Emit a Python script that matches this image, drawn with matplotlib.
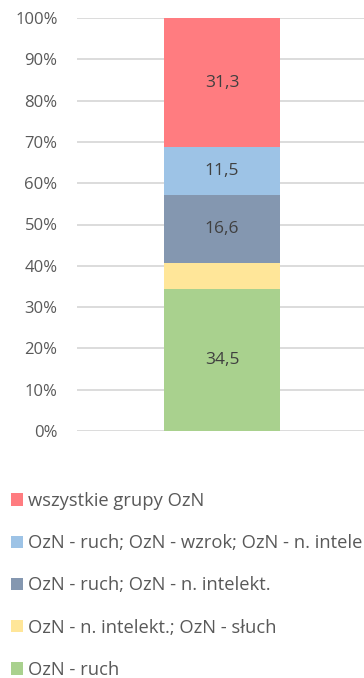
import matplotlib.pyplot as plt
from matplotlib.patches import Patch

plt.rcParams['font.family'] = ['Open Sans', 'DejaVu Sans']

# Udział grup OzN (stacked to 100%)
groups = ['OzN - ruch',
          'OzN - n. intelekt.; OzN - słuch',
          'OzN - ruch; OzN - n. intelekt.',
          'OzN - ruch; OzN - wzrok; OzN - n. intelekt.',
          'wszystkie grupy OzN']
shares = [34.5, 6.1, 16.6, 11.5, 31.3]
show_label = [True, False, True, True, True]
colors = ['#A9D18E', '#FFE699', '#8497B0', '#9DC3E6', '#FF7C80']
yticks = [0, 10, 20, 30, 40, 50, 60, 70, 80, 90, 100]

W, H = 364, 678
fig = plt.figure(figsize=(W / 100, H / 100), dpi=100)
# axes runs slightly past the right edge of the canvas
ax = fig.add_axes([77 / W, 1 - 431 / H, 290 / W, 413 / H])

bottom = 0
handles = []
for name, val, lab, col in zip(groups, shares, show_label, colors):
    ax.bar(0, val, bottom=bottom, width=0.4, color=col, zorder=3)
    if lab:
        ax.text(0, bottom + val / 2, f'{val:.1f}'.replace('.', ','),
                ha='center', va='center', fontsize=12.5, color='#404040', zorder=4)
    handles.append(Patch(facecolor=col, label=name))
    bottom += val

ax.set_xlim(-0.5, 0.5)
ax.set_ylim(0, 100)
ax.set_yticks(yticks)
ax.set_yticklabels([f'{t}%' for t in yticks])
ax.set_xticks([])
ax.tick_params(axis='y', length=0, labelsize=12, labelcolor='#595959', pad=14)
ax.grid(axis='y', color='#D9D9D9', linewidth=1.3, zorder=0)
for s in ax.spines.values():
    s.set_visible(False)

# long entry runs off the right edge, as in the original layout
fig.legend(handles=handles[::-1], loc='upper left',
           bbox_to_anchor=(11 / W, 1 - 492 / H), frameon=False,
           fontsize=13.2, labelcolor='#595959',
           handlelength=0.66, handleheight=0.66, handletextpad=0.27,
           labelspacing=1.32, borderpad=0, borderaxespad=0)

fig.savefig('out.png', dpi=100)
